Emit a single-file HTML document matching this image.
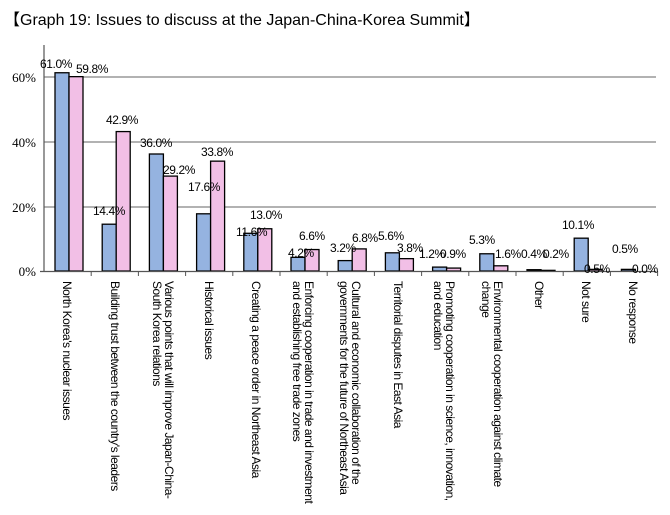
<!DOCTYPE html>
<html><head><meta charset="utf-8"><style>
body{margin:0;width:670px;height:515px;background:#fff;overflow:hidden;position:relative;font-family:"Liberation Sans",Arial,sans-serif;}
.t{position:absolute;left:4px;top:6px;font-size:16px;color:#000;}
.xl{position:absolute;top:281px;writing-mode:vertical-rl;font-size:12px;line-height:12px;color:#000;letter-spacing:-0.5px;white-space:nowrap;}
svg{position:absolute;left:0;top:0}
</style></head><body>
<div class="t">【Graph 19: Issues to discuss at the Japan-China-Korea Summit】</div>
<svg width="670" height="515" font-family="Liberation Serif, serif">
<g stroke="#999" stroke-width="1.5">
<line x1="44" y1="77" x2="656" y2="77"/><line x1="44" y1="142" x2="656" y2="142"/><line x1="44" y1="207" x2="656" y2="207"/>
</g>
<g font-size="13" fill="#000" text-anchor="end">
<text x="36" y="82">60%</text><text x="36" y="147">40%</text><text x="36" y="212">20%</text><text x="36" y="276">0%</text>
</g>
<g id="bars" stroke="#000" stroke-width="1.3"></g>
<line x1="44" y1="45" x2="44" y2="272" stroke="#555" stroke-width="1.2"/>
<line x1="40" y1="271.5" x2="656" y2="271.5" stroke="#555" stroke-width="1.2"/>
<g id="ticks" stroke="#555"></g>
<g font-family="Liberation Sans, sans-serif" font-size="12" fill="#000" letter-spacing="-0.4">
<text x="40" y="68">61.0%</text><text x="76" y="73">59.8%</text>
<text x="106" y="124">42.9%</text><text x="93" y="215">14.4%</text>
<text x="140" y="147">36.0%</text><text x="163" y="174">29.2%</text>
<text x="201" y="156">33.8%</text><text x="188" y="191">17.6%</text>
<text x="236" y="236">11.6%</text><text x="250" y="219">13.0%</text>
<text x="288" y="257">4.2%</text><text x="299" y="240">6.6%</text>
<text x="330" y="252">3.2%</text><text x="352" y="242">6.8%</text>
<text x="378" y="240">5.6%</text><text x="397" y="252">3.8%</text>
<text x="419" y="258">1.2%</text><text x="440" y="258">0.9%</text>
<text x="469" y="244">5.3%</text><text x="495" y="258">1.6%</text>
<text x="521" y="258">0.4%</text><text x="543" y="258">0.2%</text>
<text x="562" y="229">10.1%</text><text x="584" y="273">0.5%</text>
<text x="612" y="253">0.5%</text><text x="632" y="273">0.0%</text>
</g>
</svg>
<div class="xl" style="left:61px">North Korea's nuclear issues</div>
<div class="xl" style="left:109px">Building trust between the country's leaders</div>
<div class="xl" style="left:151px">Various points that will improve Japan-China-<br>South Korea relations</div>
<div class="xl" style="left:203px">Historical issues</div>
<div class="xl" style="left:250px">Creating a peace order in Northeast Asia</div>
<div class="xl" style="left:291px">Enforcing cooperation in trade and investment<br>and establishing free trade zones</div>
<div class="xl" style="left:338px">Cultural and economic collaboration of the<br>governments for the future of Northeast Asia</div>
<div class="xl" style="left:392px">Territorial disputes in East Asia</div>
<div class="xl" style="left:432px">Promoting cooperation in science, innovation,<br>and education</div>
<div class="xl" style="left:480px">Environmental cooperation against climate<br>change</div>
<div class="xl" style="left:533px">Other</div>
<div class="xl" style="left:580px">Not sure</div>
<div class="xl" style="left:627px">No response</div>
<script>
var b=[61,14.4,36,17.6,11.6,4.2,3.2,5.6,1.2,5.3,0.4,10.1,0.5];
var p=[59.8,42.9,29.2,33.8,13,6.6,6.8,3.8,0.9,1.6,0.2,0.5,0];
var g=document.getElementById('bars'),t=document.getElementById('ticks'),s='',u='';
for(var k=0;k<13;k++){var L=44+47.2*k;
function r(x,v,c){var h=v*3.25;return '<rect x="'+x+'" y="'+(271-h)+'" width="14" height="'+h+'" fill="'+c+'"/>';}
s+=r(L+11,b[k],'#95b3e0')+r(L+25,p[k],'#f2bfe6');
u+='<line x1="'+(L+47.2)+'" y1="271" x2="'+(L+47.2)+'" y2="276"/>';}
g.innerHTML=s;t.innerHTML=u;
</script>
</body></html>
